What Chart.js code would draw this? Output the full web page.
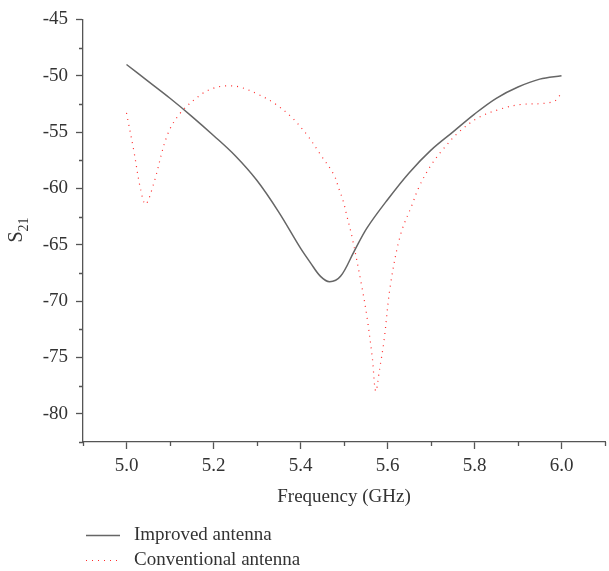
<!DOCTYPE html>
<html lang="en">
<head>
<meta charset="UTF-8">
<title>S21 vs Frequency</title>
<script src="https://cdn.jsdelivr.net/npm/chart.js"></script>
<style>
  body { margin: 0; background: #fff; }
  #wrap { width: 609px; height: 571px; }
</style>
</head>
<body>
<div id="wrap"><canvas id="grafico" width="609" height="571"></canvas></div>
<script>
  // valores
  const freqImproved = [5.00, 5.05, 5.10, 5.15, 5.20, 5.25, 5.30, 5.35, 5.40, 5.423, 5.446, 5.467, 5.492, 5.523, 5.553, 5.60, 5.65, 5.70, 5.75, 5.80, 5.85, 5.90, 5.95, 6.00];
  const s21Improved  = [-49.0, -50.5, -52.0, -53.6, -55.3, -57.1, -59.3, -62.1, -65.3, -66.6, -67.8, -68.27, -67.8, -65.6, -63.5, -61.0, -58.6, -56.6, -55.0, -53.4, -52.0, -51.0, -50.3, -50.0];

  const freqConventional = [5.000, 5.017, 5.032, 5.044, 5.063, 5.094, 5.124, 5.170, 5.200, 5.230, 5.260, 5.300, 5.340, 5.380, 5.415, 5.446, 5.477, 5.488, 5.498, 5.507, 5.519, 5.540, 5.553, 5.565, 5.573, 5.582, 5.592, 5.607, 5.630, 5.657, 5.672, 5.699, 5.726, 5.764, 5.810, 5.860, 5.906, 5.959, 5.986, 6.000];
  const s21Conventional  = [-53.3, -56.7, -60.0, -61.4, -59.5, -55.25, -53.3, -51.7, -51.1, -50.9, -51.0, -51.6, -52.45, -53.7, -55.25, -57.0, -58.8, -60.0, -61.1, -62.5, -64.4, -68.5, -71.45, -75.0, -78.0, -76.0, -73.5, -68.5, -64.1, -61.4, -59.9, -58.0, -56.6, -55.0, -53.7, -52.95, -52.55, -52.45, -52.2, -51.5];

  const xTicks = [5.0, 5.2, 5.4, 5.6, 5.8, 6.0];
  const xMinorTicks = [4.9, 5.1, 5.3, 5.5, 5.7, 5.9, 6.1];
  const yTicks = [-45, -50, -55, -60, -65, -70, -75, -80];
  const yMinorTicks = [-47.5, -52.5, -57.5, -62.5, -67.5, -72.5, -77.5, -82.5];

  const fonte = 'Liberation Serif, Times New Roman, serif';
  const corTexto = '#333';
  const corEixo = '#555';

  function pontos(xs, ys) {
    return xs.map((x, i) => ({ x: x, y: ys[i] }));
  }

  // titulo do eixo y (com subscrito), ticks menores e legenda
  const extras = {
    id: 'extras',
    afterDraw(chart) {
      const ctx = chart.ctx;
      const area = chart.chartArea;
      const sx = chart.scales.x;
      const sy = chart.scales.y;

      ctx.save();
      ctx.strokeStyle = corEixo;
      ctx.lineWidth = 1.3;
      ctx.beginPath();
      xMinorTicks.forEach(v => {
        const px = Math.round(sx.getPixelForValue(v)) + 0.5;
        ctx.moveTo(px, area.bottom);
        ctx.lineTo(px, area.bottom + 4);
      });
      yMinorTicks.forEach(v => {
        const py = Math.round(sy.getPixelForValue(v)) + 0.5;
        ctx.moveTo(area.left - 4, py);
        ctx.lineTo(area.left, py);
      });
      ctx.stroke();

      // S21
      ctx.translate(22, 230);
      ctx.rotate(-Math.PI / 2);
      ctx.fillStyle = corTexto;
      ctx.textBaseline = 'alphabetic';
      ctx.font = '20px ' + fonte;
      const wS = ctx.measureText('S').width;
      ctx.font = '14px ' + fonte;
      const wSub = ctx.measureText('21').width;
      const inicio = -(wS + wSub) / 2;
      ctx.font = '20px ' + fonte;
      ctx.textAlign = 'left';
      ctx.fillText('S', inicio, 0);
      ctx.font = '14px ' + fonte;
      ctx.fillText('21', inicio + wS, 6);
      ctx.restore();

      // legenda
      ctx.save();
      const linhas = [535, 560];
      chart.data.datasets.forEach((ds, i) => {
        const y = linhas[i] + 0.5;
        ctx.strokeStyle = ds.borderColor;
        ctx.lineWidth = ds.borderWidth;
        ctx.setLineDash(ds.borderDash || []);
        ctx.beginPath();
        ctx.moveTo(86, y);
        ctx.lineTo(120, y);
        ctx.stroke();
        ctx.setLineDash([]);
        ctx.fillStyle = corTexto;
        ctx.font = '19px ' + fonte;
        ctx.textAlign = 'left';
        ctx.textBaseline = 'middle';
        ctx.fillText(ds.label, 134, linhas[i]);
      });
      ctx.restore();
    }
  };

  const config = {
    type: 'line',
    data: {
      datasets: [
        {
          label: 'Improved antenna',
          data: pontos(freqImproved, s21Improved),
          borderColor: '#666',
          borderWidth: 1.5,
          pointRadius: 0,
          tension: 0.35,
          fill: false
        },
        {
          label: 'Conventional antenna',
          data: pontos(freqConventional, s21Conventional),
          borderColor: '#ff2a2a',
          borderWidth: 1.2,
          borderDash: [1, 5],
          pointRadius: 0,
          tension: 0.35,
          fill: false
        }
      ]
    },
    options: {
      responsive: false,
      animation: false,
      devicePixelRatio: 1,
      layout: { padding: { left: 0, right: 4, top: 17, bottom: 0 } },
      plugins: {
        legend: { display: false },
        tooltip: { enabled: false }
      },
      scales: {
        x: {
          type: 'linear',
          min: 4.9,
          max: 6.1,
          afterBuildTicks: s => { s.ticks = xTicks.map(v => ({ value: v })); },
          afterFit: s => { s.height = 129; },
          ticks: {
            callback: v => Number(v).toFixed(1),
            font: { family: fonte, size: 19 },
            color: corTexto,
            padding: 6,
            maxRotation: 0,
            autoSkip: false
          },
          grid: { drawOnChartArea: false, drawTicks: true, tickLength: 7, color: corEixo, tickWidth: 1.3 },
          border: { display: true, color: corEixo, width: 1.3 },
          title: {
            display: true,
            text: 'Frequency (GHz)',
            font: { family: fonte, size: 19 },
            color: corTexto,
            padding: { top: 0, bottom: 63 }
          }
        },
        y: {
          min: -82.5,
          max: -45,
          afterBuildTicks: s => { s.ticks = yTicks.map(v => ({ value: v })); },
          afterFit: s => { s.width = 83; },
          ticks: {
            callback: v => String(v),
            font: { family: fonte, size: 19 },
            color: corTexto,
            padding: 8
          },
          grid: { drawOnChartArea: false, drawTicks: true, tickLength: 7, color: corEixo, tickWidth: 1.3 },
          border: { display: true, color: corEixo, width: 1.3 }
        }
      }
    },
    plugins: [extras]
  };

  new Chart(document.getElementById('grafico'), config);
</script>
</body>
</html>
